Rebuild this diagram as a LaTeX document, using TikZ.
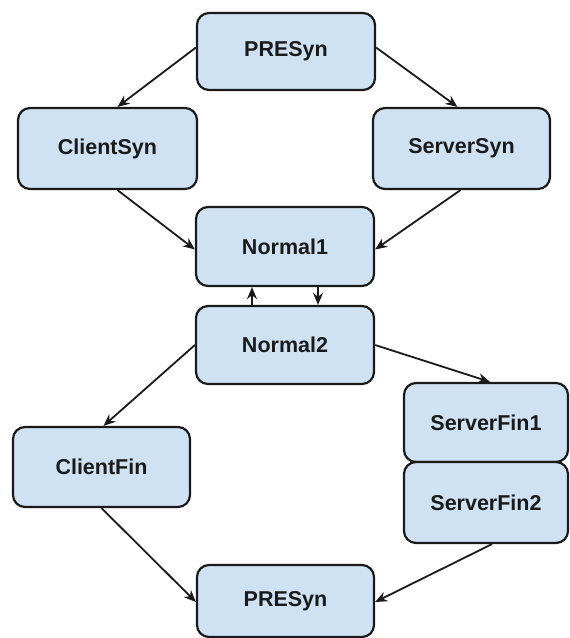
\documentclass[tikz,border=0pt]{standalone}
\usepackage{fontspec}
\setmainfont{Liberation Sans}
\usetikzlibrary{arrows.meta}
\definecolor{boxfill}{HTML}{CFE2F3}
\definecolor{boxline}{HTML}{1A1A1A}
\tikzset{
  stbox/.style={draw=boxline, fill=boxfill, line width=2.2pt, rounded corners=12pt,
    font=\fontsize{21.5}{25}\selectfont\bfseries, text=boxline, inner sep=0pt},
  conn/.style={draw=boxline, line width=1.8pt, -{Stealth[length=12pt,width=10pt]}}
}
\begin{document}
\begin{tikzpicture}[x=1pt,y=-1pt]
\useasboundingbox (0,0) rectangle (570,638);
\node[stbox, minimum width=178pt, minimum height=77pt] (ptop) at (286,51.5) {PRESyn};
\node[stbox, minimum width=179pt, minimum height=81pt] (csyn) at (107.5,148.5) {ClientSyn};
\node[stbox, minimum width=177pt, minimum height=81pt] (ssyn) at (461.5,148.5) {ServerSyn};
\node[stbox, minimum width=178pt, minimum height=79pt] (n1) at (285,246.5) {Normal1};
\node[stbox, minimum width=178pt, minimum height=78pt] (n2) at (285,345) {Normal2};
\node[stbox, minimum width=177pt, minimum height=80pt] (cfin) at (101.5,467) {ClientFin};
\node[stbox, minimum width=164pt, minimum height=79pt] (sf1) at (486,422.5) {ServerFin1};
\node[stbox, minimum width=164pt, minimum height=81pt] (sf2) at (486,502.5) {ServerFin2};
\node[stbox, minimum width=177pt, minimum height=72pt] (pbot) at (285.5,601) {PRESyn};

\draw[conn] ([yshift=4pt]ptop.west) -- ([xshift=10pt]csyn.north);
\draw[conn] ([yshift=4pt]ptop.east) -- ([xshift=-4pt]ssyn.north);
\draw[conn] ([xshift=10pt]csyn.south) -- ([yshift=-3pt]n1.west);
\draw[conn] ([xshift=-1pt]ssyn.south) -- ([yshift=-3pt]n1.east);
\draw[conn] ([xshift=-33pt]n2.north) -- ([xshift=-33pt]n1.south);
\draw[conn] ([xshift=33pt]n1.south) -- ([xshift=33pt]n2.north);
\draw[conn] (n2.west) -- ([xshift=2pt]cfin.north);
\draw[conn] (n2.east) -- ([xshift=4pt]sf1.north);
\draw[conn] (cfin.south) -- ([yshift=-1pt]pbot.west);
\draw[conn] ([xshift=6pt]sf2.south) -- ([yshift=-1pt]pbot.east);
\end{tikzpicture}
\end{document}
